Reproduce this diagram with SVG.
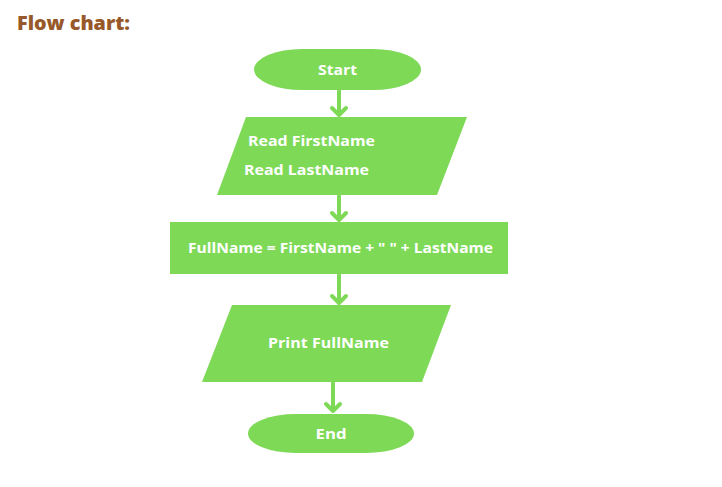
<svg xmlns="http://www.w3.org/2000/svg" width="722" height="487" viewBox="0 0 722 487">
  <defs>
    <style>
      .shape { fill: #7ed957; }
      .lbl { font-family: "Open Sans", "Liberation Sans", sans-serif; font-weight: 700; font-size: 14.5px; fill: #ffffff; }
      .title { font-family: "Open Sans", "Liberation Sans", sans-serif; font-weight: 800; font-size: 19px; fill: #97582a; }
      .conn { stroke: #7ed957; stroke-width: 4; fill: none; stroke-linecap: round; stroke-linejoin: round; }
    </style>
  </defs>
  <rect width="722" height="487" fill="#ffffff"/>
  <text class="title" x="17" y="30" textLength="113" lengthAdjust="spacingAndGlyphs">Flow chart:</text>

  <g id="connectors">
    <path class="conn" d="M339,91 V115 M332,108 L339,115 L346,108"/>
    <path class="conn" d="M339,196 V220 M332,213 L339,220 L346,213"/>
    <path class="conn" d="M339,275 V303 M332,296 L339,303 L346,296"/>
    <path class="conn" d="M333,383 V411 M326,404 L333,411 L340,404"/>
  </g>

  <g id="start">
    <rect class="shape" x="254" y="49" width="167" height="41" rx="48" ry="20.5"/>
    <text class="lbl" x="337.5" y="75" text-anchor="middle" textLength="39" lengthAdjust="spacingAndGlyphs">Start</text>
  </g>

  <g id="read">
    <polygon class="shape" points="246,117 467,117 437,195 217,195"/>
    <text class="lbl" x="248" y="146" textLength="127" lengthAdjust="spacingAndGlyphs">Read FirstName</text>
    <text class="lbl" x="244" y="175" textLength="125" lengthAdjust="spacingAndGlyphs">Read LastName</text>
  </g>

  <g id="assign">
    <rect class="shape" x="170" y="222" width="338" height="52"/>
    <text class="lbl" x="188" y="253" textLength="305" lengthAdjust="spacingAndGlyphs">FullName = FirstName + " " + LastName</text>
  </g>

  <g id="print">
    <polygon class="shape" points="232,305 451,305 422,382 202,382"/>
    <text class="lbl" x="268" y="348" textLength="121" lengthAdjust="spacingAndGlyphs">Print FullName</text>
  </g>

  <g id="end">
    <rect class="shape" x="248" y="414" width="166" height="39" rx="48" ry="19.5"/>
    <text class="lbl" x="331" y="439" text-anchor="middle" textLength="31" lengthAdjust="spacingAndGlyphs">End</text>
  </g>
</svg>
